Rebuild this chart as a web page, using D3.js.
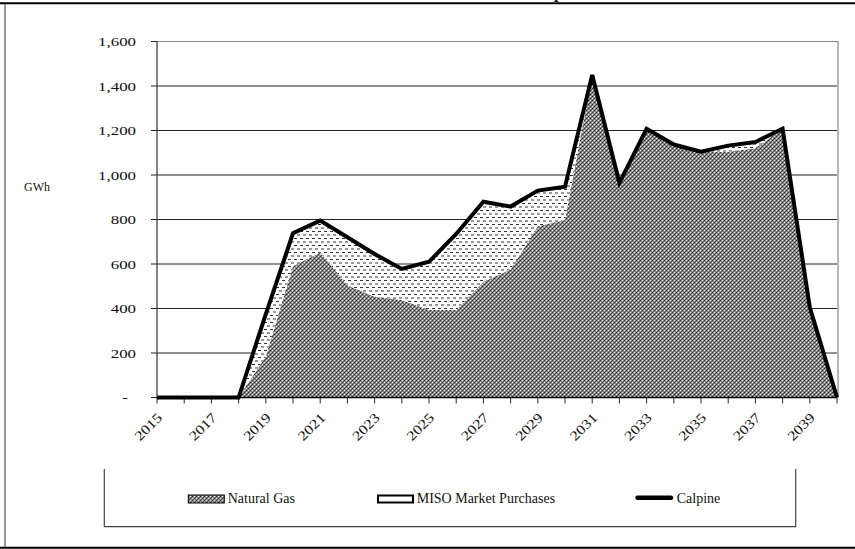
<!DOCTYPE html>
<html>
<head>
<meta charset="utf-8">
<script src="https://cdn.jsdelivr.net/npm/d3@7"></script>
<style>
  body { margin: 0; background: #fff; }
  text { font-family: "Liberation Serif", "Times New Roman", "DejaVu Serif", serif; fill: #111; }
</style>
</head>
<body>
<svg id="chart" width="855" height="549"></svg>
<script>
// values (GWh)
var years = d3.range(2015, 2041);
var naturalGas = [0, 0, 0, 0, 185, 590, 652, 505, 453, 438, 393, 393, 520, 575, 770, 798, 1450, 965, 1208, 1137, 1105, 1105, 1120, 1208, 405, 0];
var misoPurchases = [0, 0, 0, 0, 190, 148, 143, 215, 192, 140, 217, 342, 360, 283, 160, 149, 0, 0, 0, 0, 0, 27, 28, 0, 0, 0];
var calpine = [0, 0, 0, 0, 375, 738, 795, 720, 645, 578, 610, 735, 880, 858, 930, 947, 1450, 965, 1208, 1137, 1105, 1132, 1148, 1208, 405, 0];
var yTicks = [0, 200, 400, 600, 800, 1000, 1200, 1400, 1600];
var xLabels = years.filter(function (y) { return (y - 2015) % 2 === 0 && y < 2040; });
var legendItems = ["Natural Gas", "MISO Market Purchases", "Calpine"];

var svg = d3.select('#chart');
var plot = { left: 157, right: 837, top: 41.5, bottom: 397.5 };

var xs = d3.scalePoint().domain(years).range([plot.left, plot.right]).padding(0);
var ys = d3.scaleLinear().domain([0, 1600]).range([plot.bottom, plot.top]);

// fill patterns
var defs = svg.append('defs');
var ng = defs.append('pattern').attr('id', 'ngPat')
    .attr('patternUnits', 'userSpaceOnUse').attr('width', 4).attr('height', 4);
ng.append('rect').attr('width', 4).attr('height', 4).attr('fill', '#8c8c8c');
[[0, 0], [2, 2], [1, 3], [3, 1]].forEach(function (p, i) {
    ng.append('rect').attr('x', p[0]).attr('y', p[1]).attr('width', 1).attr('height', 1)
        .attr('fill', i < 2 ? '#222' : '#555');
});
[[2, 0], [0, 2]].forEach(function (p) {
    ng.append('rect').attr('x', p[0]).attr('y', p[1]).attr('width', 1).attr('height', 1).attr('fill', '#e8e8e8');
});

var mi = defs.append('pattern').attr('id', 'misoPat')
    .attr('patternUnits', 'userSpaceOnUse').attr('width', 6).attr('height', 7);
mi.append('rect').attr('width', 6).attr('height', 7).attr('fill', '#fff');
mi.append('rect').attr('x', 0).attr('y', 0).attr('width', 3).attr('height', 1).attr('fill', '#333');
mi.append('rect').attr('x', 3).attr('y', 3.5).attr('width', 3).attr('height', 1).attr('fill', '#333');

// outer frame
svg.append('line').attr('x1', 0).attr('x2', 855).attr('y1', 3.3).attr('y2', 3.3)
    .style('stroke', '#000').style('stroke-width', 2);
svg.append('line').attr('x1', 5).attr('x2', 5).attr('y1', 3).attr('y2', 548)
    .style('stroke', '#333').style('stroke-width', 1);
svg.append('line').attr('x1', 0).attr('x2', 855).attr('y1', 547.7).attr('y2', 547.7)
    .style('stroke', '#000').style('stroke-width', 2);

// title (mostly cut off by the top edge, as in the reference)
svg.append('text').attr('x', 530).attr('y', -2)
    .style('font-weight', 'bold').style('font-size', '16px').text('Calpine');

// gridlines + y ticks
svg.append('g').selectAll('line').data(yTicks.slice(1, -1)).enter().append('line')
    .attr('x1', plot.left - 6).attr('x2', plot.right)
    .attr('y1', function (d) { return ys(d); }).attr('y2', function (d) { return ys(d); })
    .style('stroke', '#222').style('stroke-width', 1);
svg.append('g').selectAll('line').data([0, 1600]).enter().append('line')
    .attr('x1', plot.left - 6).attr('x2', plot.left)
    .attr('y1', function (d) { return ys(d); }).attr('y2', function (d) { return ys(d); })
    .style('stroke', '#222').style('stroke-width', 1);

// plot border
svg.append('path')
    .attr('d', 'M' + plot.left + ',' + plot.top + 'H' + (plot.right + 1) + 'V' + plot.bottom)
    .style('fill', 'none').style('stroke', '#888').style('stroke-width', 1.2);

// stacked areas
var stack = d3.stack().keys(['ng', 'miso'])(years.map(function (y, i) {
    return { year: y, ng: naturalGas[i], miso: misoPurchases[i] };
}));
var area = d3.area()
    .x(function (d) { return xs(d.data.year); })
    .y0(function (d) { return ys(d[0]); })
    .y1(function (d) { return ys(d[1]); });
svg.append('g').selectAll('path').data(stack).enter().append('path')
    .attr('d', area)
    .attr('fill', function (d, i) { return i === 0 ? 'url(#ngPat)' : 'url(#misoPat)'; });

// axes lines
svg.append('line').attr('x1', plot.left).attr('x2', plot.left).attr('y1', plot.top).attr('y2', plot.bottom + 1)
    .style('stroke', '#333').style('stroke-width', 1.2);
svg.append('line').attr('x1', plot.left).attr('x2', plot.right).attr('y1', plot.bottom).attr('y2', plot.bottom)
    .style('stroke', '#000').style('stroke-width', 1.5);
svg.append('g').selectAll('line').data(years).enter().append('line')
    .attr('x1', function (d) { return xs(d); }).attr('x2', function (d) { return xs(d); })
    .attr('y1', plot.bottom).attr('y2', plot.bottom + 6)
    .style('stroke', '#222').style('stroke-width', 1);

// Calpine line
var line = d3.line()
    .x(function (d, i) { return xs(years[i]); })
    .y(function (d) { return ys(d); });
svg.append('path').datum(calpine).attr('d', line)
    .style('fill', 'none').style('stroke', '#000').style('stroke-width', 4)
    .style('stroke-linejoin', 'miter');

// y labels
var fmt = d3.format(',');
svg.append('g').selectAll('text').data(yTicks).enter().append('text')
    .attr('transform', function (d) {
        return 'translate(' + (d === 0 ? 128 : 136) + ',' + (ys(d) + 4.5) + ') scale(1.25,1)';
    })
    .attr('text-anchor', 'end')
    .style('font-size', '13.5px')
    .text(function (d) { return d === 0 ? '-' : fmt(d); });

// y title
svg.append('text').attr('x', 37).attr('y', 191).attr('text-anchor', 'middle')
    .style('font-size', '12px').text('GWh');

// x labels
svg.append('g').selectAll('text').data(xLabels).enter().append('text')
    .attr('transform', function (d) {
        return 'translate(' + (xs(d) + 6) + ',' + (plot.bottom + 21) + ') rotate(-45) scale(1.2,1)';
    })
    .attr('text-anchor', 'end')
    .style('font-size', '13.5px')
    .text(function (d) { return d; });

// legend box (no top edge)
svg.append('path')
    .attr('d', 'M104.3,469V526.7H795.7V469')
    .style('fill', 'none').style('stroke', '#444').style('stroke-width', 1.2);

var lg = svg.append('g');
lg.append('rect').attr('x', 188.3).attr('y', 495).attr('width', 36).attr('height', 8)
    .attr('fill', 'url(#ngPat)').style('stroke', '#000').style('stroke-width', 1);
lg.append('rect').attr('x', 378).attr('y', 495.5).attr('width', 35).attr('height', 7)
    .attr('fill', '#fff').style('stroke', '#000').style('stroke-width', 2);
lg.append('line').attr('x1', 637.5).attr('x2', 671).attr('y1', 497.7).attr('y2', 497.7)
    .style('stroke', '#000').style('stroke-width', 4.5).style('stroke-linecap', 'round');
lg.selectAll('text').data(legendItems).enter().append('text')
    .attr('x', function (d, i) { return [227.7, 416.7, 676.7][i]; })
    .attr('y', 502.7)
    .style('font-size', '14px')
    .text(function (d) { return d; });
</script>
</body>
</html>
